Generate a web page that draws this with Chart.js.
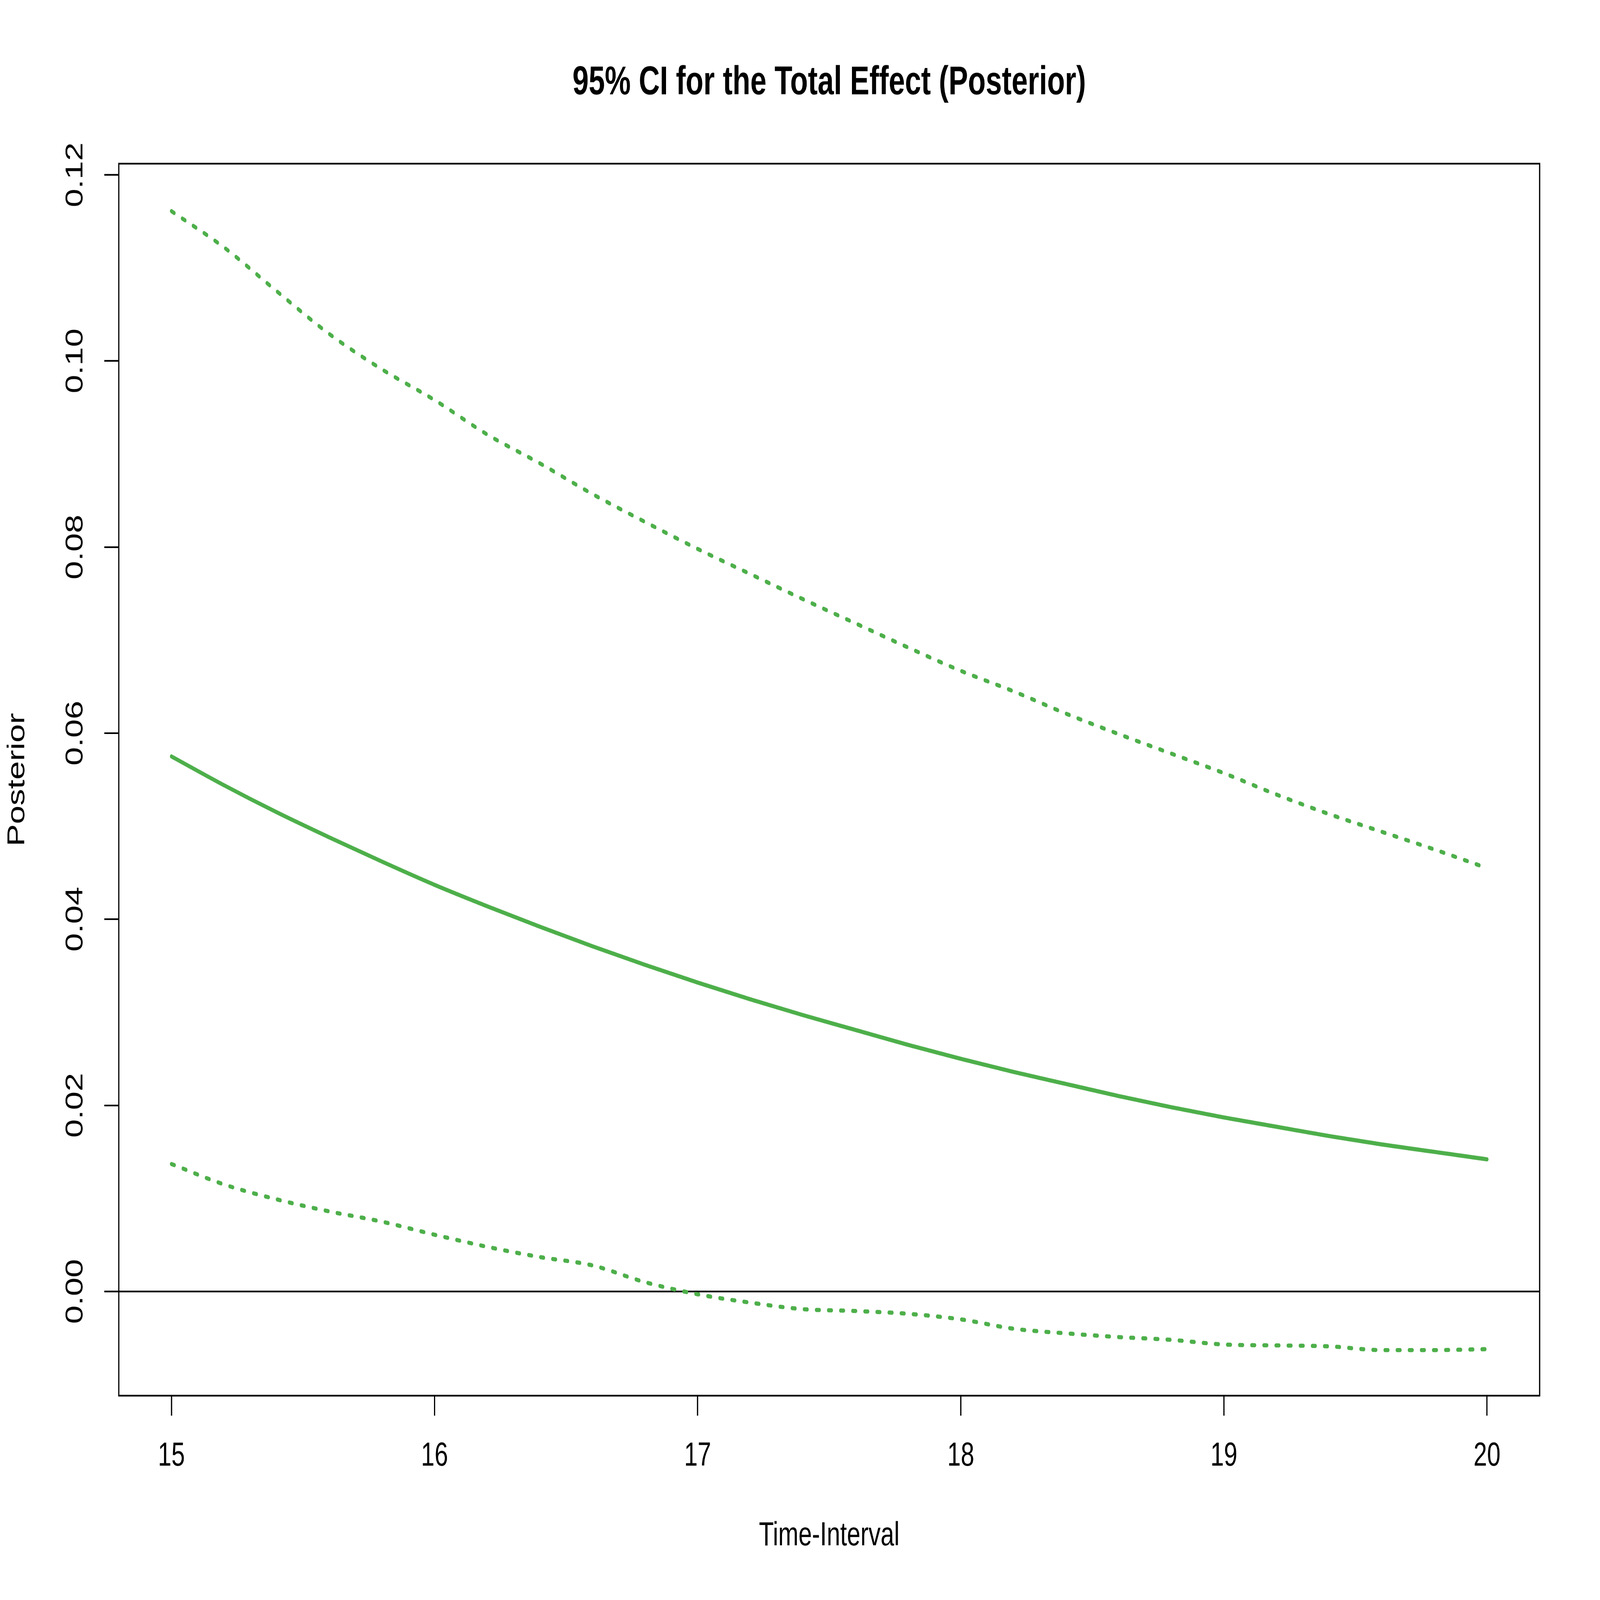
<!DOCTYPE html>
<html>
<head>
<meta charset="utf-8">
<title>95% CI for the Total Effect (Posterior)</title>
<script src="https://cdn.jsdelivr.net/npm/chart.js@4.4.1/dist/chart.umd.min.js"></script>
<style>
  html, body { margin: 0; padding: 0; background: #fff; overflow: hidden; }
  canvas { display: block; }
</style>
</head>
<body>
<!-- drawn at 6600 x 4800 and shown across the whole window -->
<canvas id="ciChart" width="6600" height="4800" style="width:100vw;height:100vh"></canvas>
<script>
// Posterior total effect with its 95% credible band.

const timePoints = [
  15.0, 15.2, 15.4, 15.6, 15.8, 16.0, 16.2, 16.4, 16.6, 16.8,
  17.0, 17.2, 17.4, 17.6, 17.8, 18.0, 18.2, 18.4, 18.6, 18.8,
  19.0, 19.2, 19.4, 19.6, 19.8, 20.0,
];

const ciUpper = [
  0.1161, 0.1122, 0.1075, 0.1029, 0.0991, 0.0958, 0.0921, 0.0890, 0.0857, 0.0827,
  0.0798, 0.0771, 0.0744, 0.0718, 0.0692, 0.0667, 0.0645, 0.0621, 0.0599, 0.0578,
  0.0557, 0.0534, 0.0513, 0.0494, 0.0475, 0.0455,
];

const postMean = [
  0.0575, 0.0544, 0.0515, 0.0488, 0.0462, 0.0437, 0.0414, 0.0392, 0.0371, 0.0351,
  0.0332, 0.0314, 0.0297, 0.0281, 0.0265, 0.0250, 0.0236, 0.0223, 0.0210, 0.0198,
  0.0187, 0.0177, 0.0167, 0.0158, 0.0150, 0.0142,
];

const ciLower = [
  0.0137, 0.0115, 0.0099, 0.0086, 0.0075, 0.0061, 0.0048, 0.0037, 0.0028, 0.0010,
  -0.0003, -0.0012, -0.0019, -0.0021, -0.0024, -0.0030, -0.0040, -0.0045, -0.0049, -0.0052,
  -0.0057, -0.0058, -0.0059, -0.0063, -0.0063, -0.0062,
];

const xTicks = [15, 16, 17, 18, 19, 20];
const xTickLabels = ["15", "16", "17", "18", "19", "20"];
const yTicks = [0, 0.02, 0.04, 0.06, 0.08, 0.1, 0.12];
const yTickLabels = ["0.00", "0.02", "0.04", "0.06", "0.08", "0.10", "0.12"];
const zeroLevel = 0;

const green = "#4DAF4A";

function toPoints(values) {
  return timePoints.map((t, i) => ({ x: t, y: values[i] }));
}

// box round the plot region, like R's box()
const framePlugin = {
  id: "frame",
  afterDatasetsDraw(chart) {
    const { ctx, chartArea: a } = chart;
    ctx.save();
    ctx.strokeStyle = "#000";
    ctx.lineWidth = 5;
    ctx.strokeRect(a.left, a.top, a.right - a.left, a.bottom - a.top);
    ctx.restore();
  },
};

Chart.defaults.color = "#000";
Chart.defaults.font.family = '"Liberation Sans", Arial, Helvetica, sans-serif';
Chart.defaults.font.size = 100;

const lineStyle = {
  borderColor: green,
  borderWidth: 12.5,
  borderCapStyle: "round",
  borderJoinStyle: "round",
  cubicInterpolationMode: "monotone",
  pointRadius: 0,
  fill: false,
};

const dotted = { ...lineStyle, borderDash: [12.5, 37.5] };

new Chart(document.getElementById("ciChart"), {
  type: "line",
  data: {
    datasets: [
      { label: "Upper 95%", data: toPoints(ciUpper), ...dotted },
      { label: "Posterior", data: toPoints(postMean), ...lineStyle },
      { label: "Lower 95%", data: toPoints(ciLower), ...dotted },
    ],
  },
  options: {
    responsive: false,
    devicePixelRatio: 1,
    animation: false,
    layout: { padding: { left: 0, right: 249, top: 0, bottom: 0 } },
    plugins: {
      legend: { display: false },
      tooltip: { enabled: false },
      title: {
        display: true,
        text: "95% CI for the Total Effect (Posterior)",
        fullSize: false,
        font: { size: 120, weight: "bold" },
        padding: { top: 178, bottom: 169 },
      },
    },
    scales: {
      x: {
        type: "linear",
        min: 14.8,
        max: 20.2,
        afterBuildTicks: (scale) => {
          scale.ticks = xTicks.map((v) => ({ value: v }));
        },
        afterFit: (scale) => {
          scale.height = 613;
        },
        border: { display: false },
        grid: {
          drawOnChartArea: false,
          drawTicks: true,
          tickLength: 60,
          tickWidth: 5,
          tickColor: "#000",
        },
        ticks: {
          padding: 62,
          maxRotation: 0,
          autoSkip: false,
          callback: (v, i) => xTickLabels[i],
        },
        title: {
          display: true,
          text: "Time-Interval",
          font: { size: 100 },
          padding: { top: 0, bottom: 132 },
        },
      },
      y: {
        type: "linear",
        min: -0.0112,
        max: 0.1212,
        afterBuildTicks: (scale) => {
          scale.ticks = yTicks.map((v) => ({ value: v }));
        },
        afterFit: (scale) => {
          scale.width = 490;
        },
        border: { display: false },
        grid: {
          drawOnChartArea: true,
          drawTicks: true,
          tickLength: 60,
          lineWidth: 5,
          tickWidth: 5,
          tickColor: "#000",
          color: (c) =>
            c.tick && c.tick.value === zeroLevel ? "#000" : "rgba(0,0,0,0)",
        },
        ticks: {
          padding: 20,
          minRotation: 90,
          maxRotation: 90,
          crossAlign: "center",
          autoSkip: false,
          callback: (v, i) => yTickLabels[i],
        },
        title: {
          display: true,
          text: "Posterior",
          font: { size: 100 },
          padding: { top: 12, bottom: 0 },
        },
      },
    },
  },
  plugins: [framePlugin],
});
</script>
</body>
</html>
